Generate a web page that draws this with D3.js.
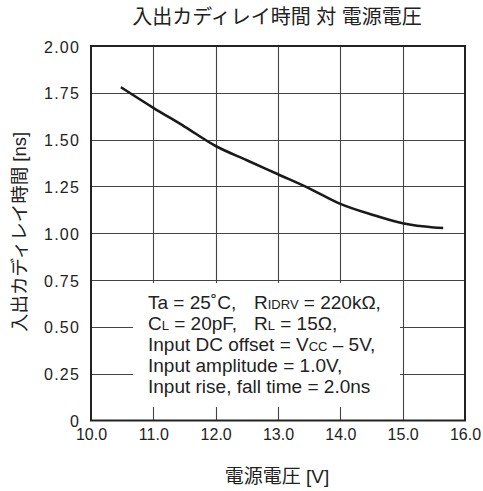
<!DOCTYPE html>
<html><head><meta charset="utf-8">
<script src="https://cdn.jsdelivr.net/npm/d3@7"></script>
<style>
body{margin:0;background:#fff;}
text{font-family:"Liberation Sans","Noto Sans CJK JP",sans-serif;fill:#222;}
</style></head>
<body><svg id="c" width="483" height="491"></svg>
<script>
const title = "入出カディレイ時間 対 電源電圧";
const xTitle = "電源電圧 [V]";
const yTitle = "入出カディレイ時間 [ns]";
const xTicks = [10, 11, 12, 13, 14, 15, 16];
const yTicks = [0, 0.25, 0.5, 0.75, 1.0, 1.25, 1.5, 1.75, 2.0];
const vcc   = [10.48, 11.0, 11.5, 12.0, 12.5, 13.0, 13.5, 14.0, 14.5, 15.0, 15.5, 15.65];
const delay = [1.78, 1.67, 1.57, 1.466, 1.39, 1.315, 1.24, 1.157, 1.10, 1.053, 1.031, 1.028];
// [text, isSubscript, tabStop]
const noteLines = [
  [["Ta = 25˚C,",0,0],["R",0,1],["IDRV",1,0],[" = 220kΩ,",0,0]],
  [["C",0,0],["L",1,0],[" = 20pF,",0,0],["R",0,1],["L",1,0],[" = 15Ω,",0,0]],
  [["Input DC offset = V",0,0],["CC",1,0],[" – 5V,",0,0]],
  [["Input amplitude = 1.0V,",0,0]],
  [["Input rise, fall time = 2.0ns",0,0]]
];

const svg = d3.select("#c");
const L = 91, R = 465, T = 46, B = 420.5;
const x = d3.scaleLinear().domain([10, 16]).range([L, R]);
const y = d3.scaleLinear().domain([0, 2]).range([B, T]);

// grid
const g = svg.append("g");
g.selectAll("line.v").data(xTicks.slice(1, -1)).enter().append("line")
  .attr("x1", d => Math.round(x(d)) + 0.5).attr("x2", d => Math.round(x(d)) + 0.5)
  .attr("y1", T).attr("y2", B).attr("stroke", "#444").attr("stroke-width", 1.1);
g.selectAll("line.h").data(yTicks.slice(1, -1)).enter().append("line")
  .attr("y1", d => Math.round(y(d)) + 0.5).attr("y2", d => Math.round(y(d)) + 0.5)
  .attr("x1", L).attr("x2", R).attr("stroke", "#444").attr("stroke-width", 1.1);

// note box (white)
svg.append("rect").attr("x", 133).attr("y", 283).attr("width", 267).attr("height", 124).attr("fill", "#fff");

// frame
svg.append("rect").attr("x", L).attr("y", T).attr("width", R - L).attr("height", B - T)
  .attr("fill", "none").attr("stroke", "#222").attr("stroke-width", 2);

// curve
const line = d3.line().x((d, i) => x(vcc[i])).y(d => y(d)).curve(d3.curveMonotoneX);
svg.append("path").attr("d", line(delay)).attr("fill", "none")
  .attr("stroke", "#1a1a1a").attr("stroke-width", 2.6).attr("stroke-linecap", "butt");

// axes labels
const xAxis = d3.axisBottom(x).tickValues(xTicks).tickFormat(d3.format(".1f")).tickSize(0).tickPadding(0);
const xa = svg.append("g").attr("transform", `translate(0,${B})`).call(xAxis);
xa.select(".domain").remove();
xa.selectAll("text").attr("y", 19.5).attr("dy", 0).style("font-size", "16px").style("font-family", "Liberation Sans, sans-serif").attr("fill", "#222");

const yAxis = d3.axisLeft(y).tickValues(yTicks).tickFormat(d => d === 0 ? "0" : d3.format(".2f")(d)).tickSize(0).tickPadding(0);
const ya = svg.append("g").attr("transform", `translate(80,0)`).call(yAxis);
ya.select(".domain").remove();
ya.selectAll("text").attr("x", 0).attr("dy", "0.35em").attr("y", 0.5).style("font-size", "16px")
  .style("letter-spacing", "1.2px").style("font-family", "Liberation Sans, sans-serif").attr("fill", "#222");

// titles
svg.append("text").attr("x", 277).attr("y", 24).attr("text-anchor", "middle")
  .style("font-size", "20px").text(title);
svg.append("text").attr("x", 277).attr("y", 483).attr("text-anchor", "middle")
  .style("font-size", "19px").text(xTitle);
svg.append("text").attr("transform", "translate(26,232) rotate(-90)").attr("text-anchor", "middle")
  .style("font-size", "18.5px").text(yTitle);

// note text
const nt = svg.append("g");
noteLines.forEach((ln, i) => {
  const t = nt.append("text").attr("x", 148).attr("y", 309 + i * 21).style("font-size", "19px");
  ln.forEach(([s, sub, tab]) => {
    const ts = t.append("tspan").style("font-size", sub ? "13px" : "19px").text(s);
    if (tab) ts.attr("x", 254);
  });
});
</script></body></html>
